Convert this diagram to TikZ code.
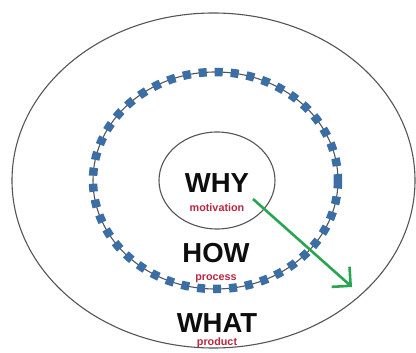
\documentclass[tikz,border=0pt]{standalone}
\usepackage{fontspec}
\setmainfont{Liberation Sans}
\usetikzlibrary{arrows.meta}
\definecolor{dashblue}{RGB}{58,110,165}
\definecolor{arrowgreen}{RGB}{40,165,80}
\definecolor{subred}{RGB}{185,40,65}
\definecolor{ringgray}{RGB}{85,85,85}
\tikzset{
  ring/.style={draw=ringgray, line width=1.1pt},
  bigword/.style={font=\fontsize{27.5}{28}\selectfont\bfseries, text=black!95, inner sep=0pt},
  subword/.style={font=\fontsize{10.8}{11}\selectfont\bfseries, text=subred, inner sep=0pt},
  dashring/.style={draw=dashblue, line width=8.5pt, dash pattern=on 8pt off 8pt},
  gobar/.style={draw=arrowgreen, line width=2.6pt, -{Straight Barb[length=13.5pt, width=27pt, line width=2.6pt]}}
}
\begin{document}
\begin{tikzpicture}[x=1pt,y=-1pt]
\useasboundingbox (0,0) rectangle (416,353);
\fill[white] (0,0) rectangle (416,353);
% outer ring
\draw[ring] (213.5,180.5) ellipse [x radius=201.5, y radius=167.5];
% middle ring
\draw[ring] (215.5,180.5) ellipse [x radius=122.5, y radius=108.5];
\draw[dashring] (215.5,180.5) ellipse [x radius=122.5, y radius=108.5];
% inner ring
\draw[ring] (217,180.5) ellipse [x radius=58, y radius=48.5];
% texts
\node[bigword] (why) at (217,183) {WHY};
\node[subword] (motiv) at (217,208) {motivation};
\node[bigword] (how) at (216,253) {HOW};
\node[subword] (proc) at (216,279) {process};
\node[bigword] (what) at (217,323) {WHAT};
\node[subword] (prod) at (217,343) {product};
% arrow
\coordinate (astart) at (253,199);
\coordinate (aend) at (352,287);
\draw[gobar] (astart) -- (aend);
\end{tikzpicture}
\end{document}
